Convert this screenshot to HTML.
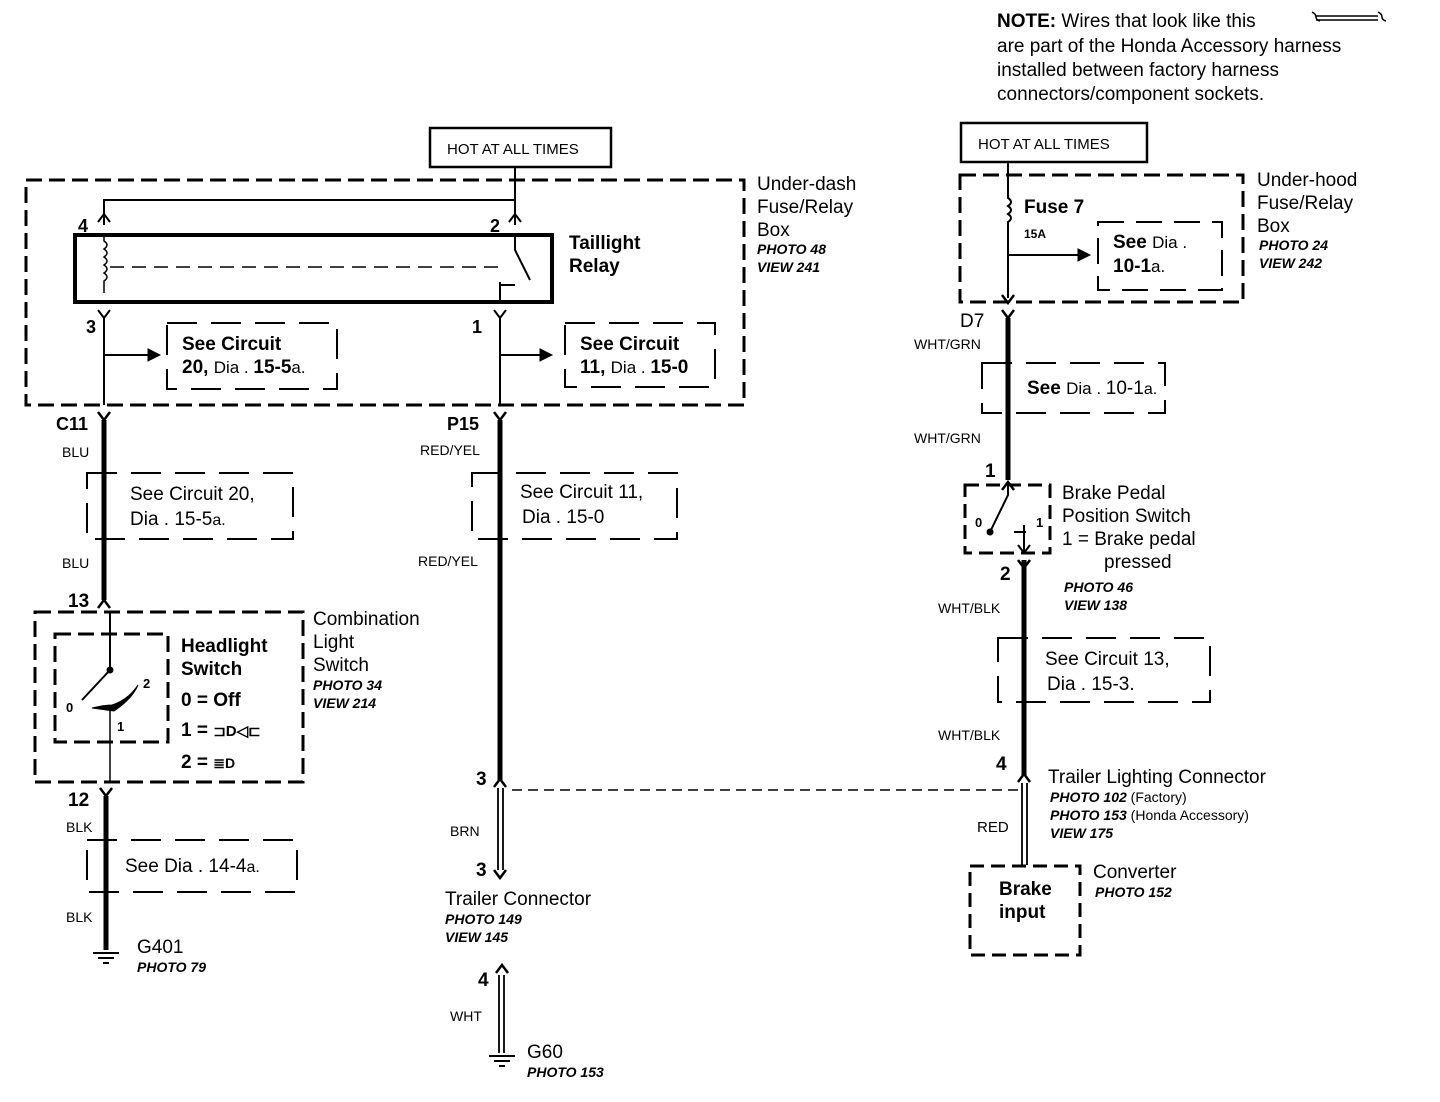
<!DOCTYPE html>
<html><head><meta charset="utf-8"><style>
body{margin:0;background:#fff}
svg{display:block}
text{font-family:"Liberation Sans",Arial,sans-serif;fill:#000}
.b{font-weight:bold}
.i{font-style:italic;font-weight:bold;font-size:14px}
.t{font-size:19px}
.s{font-size:18px}
</style></head><body>
<svg width="1440" height="1102" viewBox="0 0 1440 1102" xmlns="http://www.w3.org/2000/svg">
<g fill="none" stroke="#000">
<path d="M1312 12 q4 2 4 5 q0 3 4 4 M1378 12 q4 2 4 5 q0 3 4 4" stroke-width="1.5"/>
<path d="M1316 16 h62 M1316 20 h62" stroke-width="1.5"/>
<rect x="430" y="128" width="181" height="39" stroke-width="2.5"/>
<rect x="961" y="123" width="186" height="39" stroke-width="2.5"/>
<rect x="26" y="180" width="718" height="225" stroke-width="3" stroke-dasharray="16 7"/>
<rect x="75" y="235" width="477" height="67" stroke-width="4"/>
<path d="M515 167 V225 M515 200 H104 V225" stroke-width="2"/>
<path d="M98 222 l6 -8 l6 8 M509 222 l6 -8 l6 8" stroke-width="2"/>
<path d="M104 235 v6 q6 4 0 8 q6 4 0 8 q6 4 0 8 q6 4 0 8 q6 4 0 8 v12" stroke-width="1.5"/>
<path d="M110 267 H505" stroke-width="1.5" stroke-dasharray="14 8"/>
<path d="M515 235 v15 l15 30" stroke-width="2"/>
<path d="M500 302 v-20 M500 285 h15" stroke-width="2"/>
<path d="M98 310 l6 8 l6 -8 M104 318 V405 M494 310 l6 8 l6 -8 M500 318 V405" stroke-width="2"/>
<path d="M104 355 H148 M500 355 H540" stroke-width="2"/>
<path d="M148 349 l12 6 l-12 6z M540 349 l12 6 l-12 6z" fill="#000"/>
<rect x="167" y="323" width="170" height="66" stroke-width="2" stroke-dasharray="30 14"/>
<rect x="565" y="323" width="150" height="64" stroke-width="2" stroke-dasharray="30 14"/>
<path d="M98 412 l6 8 l6 -8 M494 412 l6 8 l6 -8" stroke-width="2.5"/>
<path d="M104 420 V600 M500 420 V780" stroke-width="5"/>
<rect x="87" y="473" width="206" height="66" stroke-width="2" stroke-dasharray="30 14"/>
<rect x="472" y="473" width="205" height="66" stroke-width="2" stroke-dasharray="30 14"/>
<path d="M98 608 l6 -8 l6 8" stroke-width="2.5"/>
<rect x="35" y="612" width="268" height="170" stroke-width="3" stroke-dasharray="16 7"/>
<rect x="55" y="634" width="113" height="108" stroke-width="3" stroke-dasharray="16 7"/>
<path d="M110 612 V670 L82 700" stroke-width="2"/>
<circle cx="110" cy="670" r="3" fill="#000"/>
<path d="M92 708 q12 -3 20 -3 q16 -5 26 -20 q-6 14 -24 26 z" fill="#000" stroke-width="1"/>
<path d="M110 710 V782" stroke-width="1.5"/>
<path d="M100 788 l6 8 l6 -8" stroke-width="2.5"/>
<path d="M106 796 V950" stroke-width="5"/>
<rect x="87" y="840" width="210" height="52" stroke-width="2" stroke-dasharray="30 14"/>
<path d="M93 953 h26 M98 958 h16 M103 963 h6" stroke-width="2"/>
<path d="M494 787 l6 -8 l6 8" stroke-width="2.5"/>
<path d="M498 788 V870 M503 788 V870" stroke-width="1.8"/>
<path d="M494 870 l6 8 l6 -8" stroke-width="2.5"/>
<path d="M496 973 l6 -8 l6 8" stroke-width="2.5"/>
<path d="M499 975 V1053 M504 975 V1053" stroke-width="1.8"/>
<path d="M489 1056 h26 M494 1061 h16 M499 1066 h6" stroke-width="2"/>
<path d="M512 790 H1020" stroke-width="1.5" stroke-dasharray="10 6"/>
<rect x="960" y="175" width="283" height="127" stroke-width="3" stroke-dasharray="16 7"/>
<path d="M1008 162 V198 q6 4 0 8 q6 4 0 8 q6 4 0 8 V298 M1008 255 H1078" stroke-width="2"/>
<path d="M1078 249 l12 6 l-12 6z" fill="#000"/>
<rect x="1098" y="222" width="124" height="68" stroke-width="2" stroke-dasharray="26 12"/>
<path d="M1002 295 l6 8 l6 -8 M1002 310 l6 8 l6 -8" stroke-width="2.5"/>
<path d="M1008 318 V480" stroke-width="5"/>
<rect x="982" y="363" width="183" height="50" stroke-width="2" stroke-dasharray="30 14"/>
<path d="M1002 490 l6 -8 l6 8" stroke-width="2.5"/>
<rect x="965" y="485" width="85" height="68" stroke-width="3" stroke-dasharray="14 7"/>
<path d="M1008 485 V495 L990 532" stroke-width="2"/>
<circle cx="990" cy="532" r="3" fill="#000"/>
<path d="M1014 532 h12 M1024 525 V553 M1018 545 l6 8 l6 -8" stroke-width="2"/>
<path d="M1018 560 l6 8 l6 -8" stroke-width="2.5"/>
<path d="M1024 560 V775" stroke-width="5"/>
<rect x="998" y="638" width="212" height="64" stroke-width="2" stroke-dasharray="30 14"/>
<path d="M1018 782 l6 -8 l6 8" stroke-width="2.5"/>
<path d="M1022 783 V865 M1027 783 V865" stroke-width="1.8"/>
<rect x="970" y="866" width="110" height="89" stroke-width="3" stroke-dasharray="14 7"/>
</g>
<g class="b">
<text x="997" y="27" class="t">NOTE: <tspan font-weight="normal">Wires that look like this</tspan></text>
<text x="997" y="52" class="t" font-weight="normal">are part of the Honda Accessory harness</text>
<text x="997" y="76" class="t" font-weight="normal">installed between factory harness</text>
<text x="997" y="100" class="t" font-weight="normal">connectors/component sockets.</text>
<text x="447" y="154" font-size="15" font-weight="normal">HOT AT ALL TIMES</text>
<text x="978" y="149" font-size="15" font-weight="normal">HOT AT ALL TIMES</text>
<text x="757" y="190" class="t" font-weight="normal">Under-dash</text>
<text x="757" y="213" class="t" font-weight="normal">Fuse/Relay</text>
<text x="757" y="236" class="t" font-weight="normal">Box</text>
<text x="757" y="254" class="i">PHOTO 48</text>
<text x="757" y="272" class="i">VIEW 241</text>
<text x="78" y="232" class="s">4</text>
<text x="490" y="232" class="s">2</text>
<text x="569" y="249" class="t">Taillight</text>
<text x="569" y="272" class="t">Relay</text>
<text x="86" y="333" class="s">3</text>
<text x="472" y="333" class="s">1</text>
<text x="182" y="350" class="t">See Circuit</text>
<text x="182" y="373" class="t">20, <tspan font-weight="normal" font-size="17">Dia . </tspan>15-5<tspan font-weight="normal" font-size="17">a.</tspan></text>
<text x="580" y="350" class="t">See Circuit</text>
<text x="580" y="373" class="t">11, <tspan font-weight="normal" font-size="17">Dia . </tspan>15-0</text>
<text x="56" y="430" class="s">C11</text>
<text x="447" y="430" class="s">P15</text>
<text x="62" y="457" font-size="14" font-weight="normal">BLU</text>
<text x="420" y="455" font-size="14" font-weight="normal">RED/YEL</text>
<text x="130" y="500" class="t" font-weight="normal">See Circuit 20,</text>
<text x="130" y="525" class="t" font-weight="normal">Dia . 15-5<tspan font-size="16">a.</tspan></text>
<text x="520" y="498" class="t" font-weight="normal">See Circuit 11,</text>
<text x="522" y="523" class="t" font-weight="normal">Dia . 15-0</text>
<text x="62" y="568" font-size="14" font-weight="normal">BLU</text>
<text x="418" y="566" font-size="14" font-weight="normal">RED/YEL</text>
<text x="68" y="607" class="t">13</text>
<text x="313" y="625" class="t" font-weight="normal">Combination</text>
<text x="313" y="648" class="t" font-weight="normal">Light</text>
<text x="313" y="671" class="t" font-weight="normal">Switch</text>
<text x="313" y="690" class="i">PHOTO 34</text>
<text x="313" y="708" class="i">VIEW 214</text>
<text x="181" y="652" class="t">Headlight</text>
<text x="181" y="675" class="t">Switch</text>
<text x="181" y="706" class="t">0 =  Off</text>
<text x="181" y="736" class="t">1 = <tspan font-size="15">⊐D◁⊏</tspan></text>
<text x="181" y="768" class="t">2 = <tspan font-size="14">≣D</tspan></text>
<text x="66" y="712" font-size="13">0</text>
<text x="143" y="688" font-size="13">2</text>
<text x="117" y="731" font-size="13">1</text>
<text x="68" y="806" class="t">12</text>
<text x="66" y="832" font-size="14" font-weight="normal">BLK</text>
<text x="125" y="872" class="t" font-weight="normal">See Dia . 14-4<tspan font-size="16">a.</tspan></text>
<text x="66" y="922" font-size="14" font-weight="normal">BLK</text>
<text x="137" y="953" class="t" font-weight="normal">G401</text>
<text x="137" y="972" class="i">PHOTO 79</text>
<text x="476" y="785" class="t">3</text>
<text x="450" y="836" font-size="14" font-weight="normal">BRN</text>
<text x="476" y="876" class="t">3</text>
<text x="445" y="905" class="t" font-weight="normal">Trailer Connector</text>
<text x="445" y="924" class="i">PHOTO 149</text>
<text x="445" y="942" class="i">VIEW 145</text>
<text x="478" y="986" class="t">4</text>
<text x="450" y="1021" font-size="14" font-weight="normal">WHT</text>
<text x="527" y="1058" class="t" font-weight="normal">G60</text>
<text x="527" y="1077" class="i">PHOTO 153</text>
<text x="1257" y="186" class="t" font-weight="normal">Under-hood</text>
<text x="1257" y="209" class="t" font-weight="normal">Fuse/Relay</text>
<text x="1257" y="232" class="t" font-weight="normal">Box</text>
<text x="1259" y="250" class="i">PHOTO 24</text>
<text x="1259" y="268" class="i">VIEW 242</text>
<text x="1024" y="213" class="t">Fuse 7</text>
<text x="1024" y="238" font-size="12">15A</text>
<text x="1113" y="248" class="t">See <tspan font-weight="normal" font-size="17">Dia .</tspan></text>
<text x="1113" y="272" class="t">10-1<tspan font-weight="normal" font-size="17">a.</tspan></text>
<text x="960" y="327" class="t" font-weight="normal">D7</text>
<text x="914" y="349" font-size="14" font-weight="normal">WHT/GRN</text>
<text x="1027" y="394" class="t">See <tspan font-weight="normal" font-size="17">Dia . </tspan><tspan font-weight="normal">10-1</tspan><tspan font-weight="normal" font-size="16">a.</tspan></text>
<text x="914" y="443" font-size="14" font-weight="normal">WHT/GRN</text>
<text x="985" y="477" class="t">1</text>
<text x="1062" y="499" class="t" font-weight="normal">Brake Pedal</text>
<text x="1062" y="522" class="t" font-weight="normal">Position Switch</text>
<text x="1062" y="545" class="t" font-weight="normal">1 =  Brake pedal</text>
<text x="1104" y="568" class="t" font-weight="normal">pressed</text>
<text x="975" y="527" font-size="13">0</text>
<text x="1036" y="527" font-size="13">1</text>
<text x="1000" y="580" class="t">2</text>
<text x="1064" y="592" class="i">PHOTO 46</text>
<text x="1064" y="610" class="i">VIEW 138</text>
<text x="938" y="613" font-size="14" font-weight="normal">WHT/BLK</text>
<text x="1045" y="665" class="t" font-weight="normal">See Circuit 13,</text>
<text x="1047" y="690" class="t" font-weight="normal">Dia . 15-3.</text>
<text x="938" y="740" font-size="14" font-weight="normal">WHT/BLK</text>
<text x="996" y="770" class="t">4</text>
<text x="1048" y="783" class="t" font-weight="normal">Trailer Lighting Connector</text>
<text x="1050" y="802" class="i">PHOTO 102 <tspan font-style="normal" font-weight="normal">(Factory)</tspan></text>
<text x="1050" y="820" class="i">PHOTO 153 <tspan font-style="normal" font-weight="normal">(Honda Accessory)</tspan></text>
<text x="1050" y="838" class="i">VIEW 175</text>
<text x="977" y="832" font-size="15" font-weight="normal">RED</text>
<text x="1093" y="878" class="t" font-weight="normal">Converter</text>
<text x="1095" y="897" class="i">PHOTO 152</text>
<text x="999" y="895" class="t">Brake</text>
<text x="999" y="918" class="t">input</text>
</g>
</svg>
</body></html>
